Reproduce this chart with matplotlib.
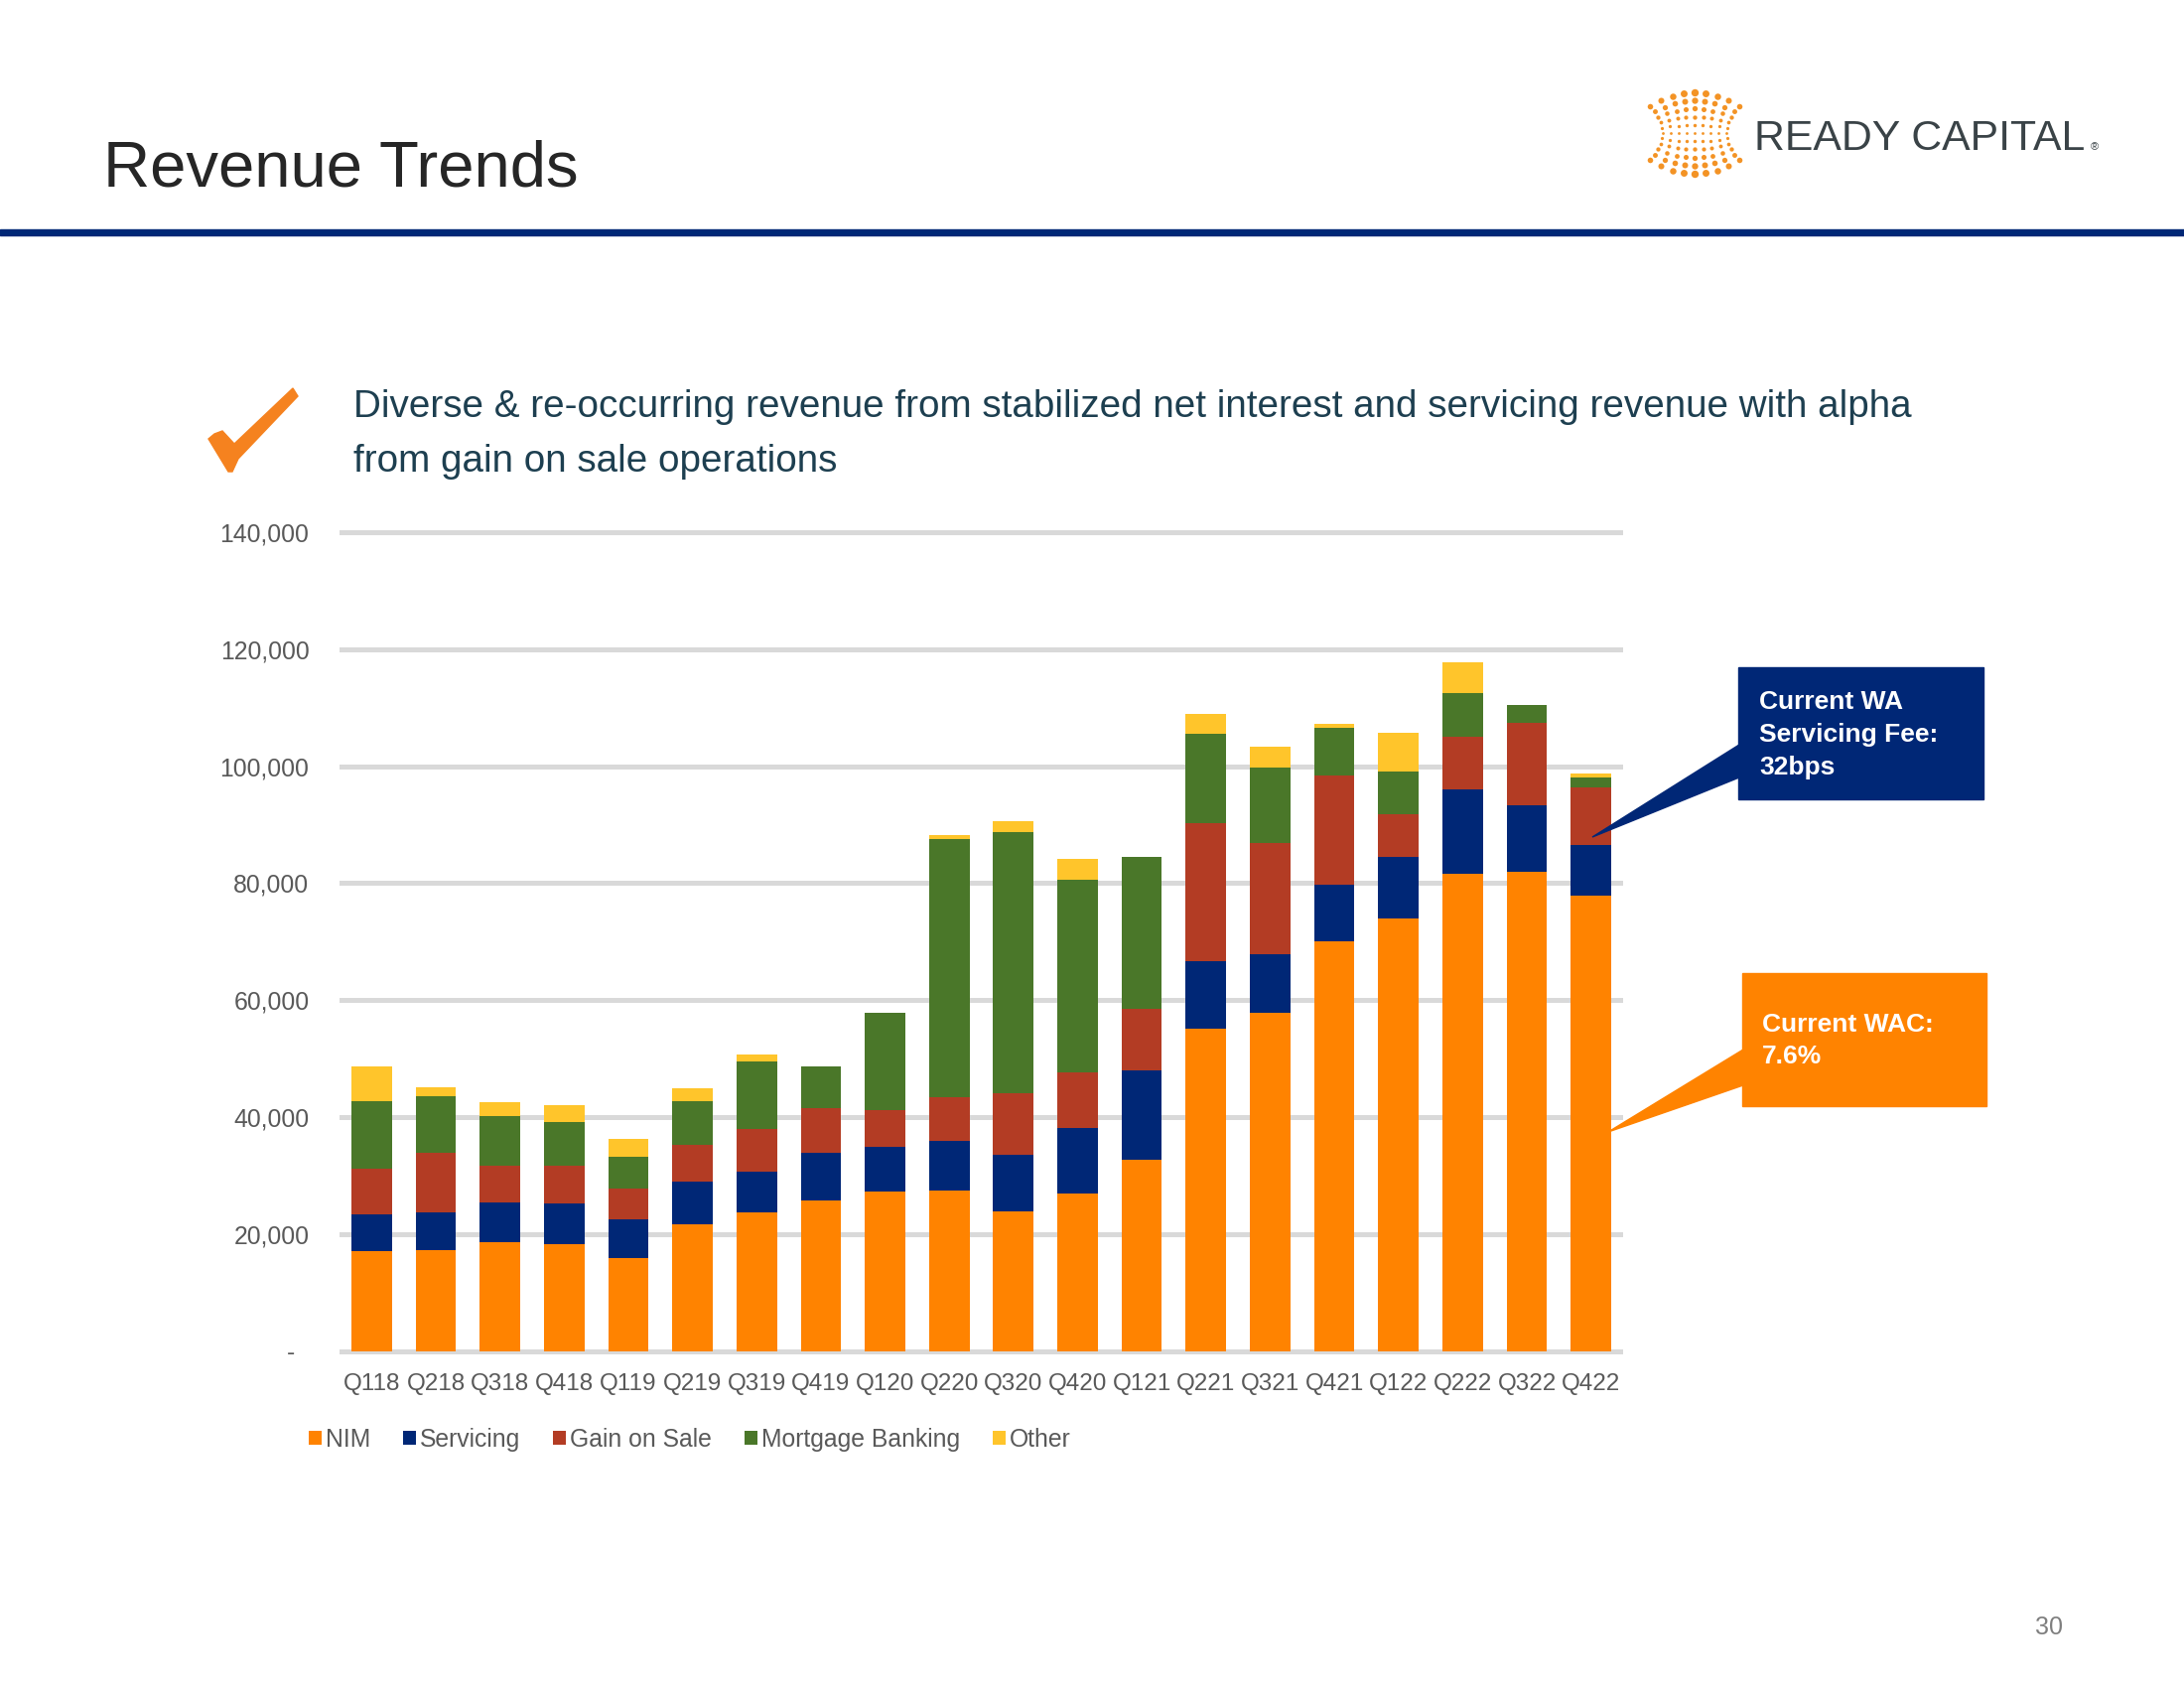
import numpy as np
import matplotlib
matplotlib.use('Agg')
import matplotlib.pyplot as plt
from matplotlib.patches import Rectangle, Polygon, Patch

plt.rcParams['font.family'] = ['Liberation Sans', 'DejaVu Sans']

# datos del grafico (miles de USD)
quarters = ['Q118', 'Q218', 'Q318', 'Q418', 'Q119', 'Q219', 'Q319', 'Q419', 'Q120', 'Q220',
            'Q320', 'Q420', 'Q121', 'Q221', 'Q321', 'Q421', 'Q122', 'Q222', 'Q322', 'Q422']
nim = [17100, 17250, 18600, 18300, 16000, 21650, 23800, 25800, 27250, 27400,
       23900, 26900, 32700, 55200, 57900, 70000, 73900, 81600, 82000, 77900]
servicing = [6350, 6550, 6850, 7000, 6550, 7350, 6950, 8200, 7700, 8600,
             9750, 11200, 15300, 11500, 9900, 9800, 10600, 14350, 11300, 8600]
gain_on_sale = [7700, 10100, 6200, 6450, 5300, 6300, 7200, 7600, 6200, 7500,
                10400, 9550, 10600, 23500, 19000, 18650, 7200, 9100, 14100, 9900]
mortgage_banking = [11650, 9700, 8600, 7450, 5450, 7500, 11650, 7100, 16700, 44100,
                    44600, 32900, 25950, 15250, 13000, 8100, 7450, 7450, 3100, 1700]
other = [5900, 1600, 2250, 2900, 3000, 2150, 1150, 0, 0, 700,
         1950, 3550, 0, 3400, 3550, 750, 6550, 5300, 0, 600]

series_names = ['NIM', 'Servicing', 'Gain on Sale', 'Mortgage Banking', 'Other']
series_colors = ['#ff8300', '#002776', '#b33c24', '#4a7729', '#ffc52b']
y_ticks = [0, 20000, 40000, 60000, 80000, 100000, 120000, 140000]
y_tick_labels = ['-  ', '20,000', '40,000', '60,000', '80,000', '100,000', '120,000', '140,000']

W, H = 2200, 1700
fig = plt.figure(figsize=(22, 17), dpi=100)

# ejes del grafico (posiciones en pixeles)
x0, x1 = 342, 1635
y_top, y_bot = 524, 1364.5
ax = fig.add_axes([x0 / W, 1 - y_bot / H, (x1 - x0) / W, (y_bot - y_top) / H])

x = np.arange(len(quarters))
bottom = np.zeros(len(quarters))
for vals, col in zip([nim, servicing, gain_on_sale, mortgage_banking, other], series_colors):
    ax.bar(x, vals, width=0.63, bottom=bottom, color=col, zorder=2)
    bottom += np.array(vals)

ax.set_xlim(-0.5, len(quarters) - 0.5)
ax.set_ylim(-600, 142000)
ax.set_yticks(y_ticks)
ax.set_yticklabels(y_tick_labels)
ax.set_xticks(x)
ax.set_xticklabels(quarters)
ax.tick_params(axis='y', length=0, pad=22, labelsize=17.8, labelcolor='#595959')
ax.tick_params(axis='x', length=0, pad=13, labelsize=17.5, labelcolor='#595959')
ax.grid(axis='y', color='#d9d9d9', linewidth=3.6)
ax.set_axisbelow(True)
for s in ax.spines.values():
    s.set_visible(False)

handles = [Patch(facecolor=c) for c in series_colors]
ax.legend(handles, series_names, ncol=5, frameon=False, loc='center left',
          bbox_to_anchor=(311 / W, 1 - 1450 / H), bbox_transform=fig.transFigure,
          handlelength=0.52, handleheight=0.52, handletextpad=0.15, columnspacing=1.35,
          borderpad=0, borderaxespad=0, fontsize=17.8, labelcolor='#595959')

# capa superior en coordenadas de pixel
ov = fig.add_axes([0, 0, 1, 1], zorder=5)
ov.set_xlim(0, W)
ov.set_ylim(H, 0)
ov.axis('off')
ov.patch.set_alpha(0)

# encabezado
ov.text(104, 187, 'Revenue Trends', fontsize=47, color='#262626', va='baseline', ha='left')
ov.add_patch(Rectangle((0, 231), W, 6, color='#002776'))

# logo
cx, cy = 1707, 134
for r in range(-5, 6):
    t = r / 5
    for c in range(-4, 5):
        u = c / 4
        px = cx + c * 11.25 * (0.72 + 0.28 * t * t)
        py = cy + t * (27 + 14 * (1 - u * u))
        rad = 1.4 + 2.3 * abs(t) ** 1.2 * (1 - 0.4 * abs(u))
        ov.scatter(px, py, s=(1.44 * rad) ** 2, color='#f39325', lw=0)
ov.text(1767, 151, 'READY CAPITAL', fontsize=30.8, color='#3a4347', va='baseline', ha='left')
ov.text(2106, 151, '®', fontsize=8, color='#3a4347', va='baseline', ha='left')

# marca de verificacion
check = [(210, 442), (216, 437), (224, 434), (236, 447), (295, 391), (300, 399),
         (240, 462), (234, 475), (230, 475)]
ov.add_patch(Polygon(check, closed=True, color='#f5821f'))

# subtitulo
r = fig.canvas.get_renderer()
line1 = 'Diverse & re-occurring revenue from stabilized net interest and servicing revenue with alpha'
line2 = 'from gain on sale operations'
t1 = ov.text(356, 420, line1, fontsize=28, color='#1d3f50', va='baseline', ha='left')
fs = 28 * 1571 / t1.get_window_extent(renderer=r).width
t1.set_fontsize(fs)
ov.text(356, 475, line2, fontsize=fs, color='#1d3f50', va='baseline', ha='left')

# llamadas
ov.add_patch(Rectangle((1751, 672), 247, 133, color='#002776'))
ov.add_patch(Polygon([(1752, 750), (1604, 843), (1752, 783)], closed=True, color='#002776'))
ov.text(1772, 740, 'Current WA\nServicing Fee:\n32bps', fontsize=19, fontweight='bold',
        color='white', va='center', ha='left', linespacing=1.45)

ov.add_patch(Rectangle((1755, 980), 246, 134, color='#ff8300'))
ov.add_patch(Polygon([(1756, 1057), (1620, 1140), (1756, 1093)], closed=True, color='#ff8300'))
ov.text(1775, 1048, 'Current WAC:\n7.6%', fontsize=19, fontweight='bold',
        color='white', va='center', ha='left', linespacing=1.45)

# numero de pagina
ov.text(2064, 1639, '30', fontsize=18, color='#7f7f7f', va='center', ha='center')

fig.savefig('out.png', dpi=100)
